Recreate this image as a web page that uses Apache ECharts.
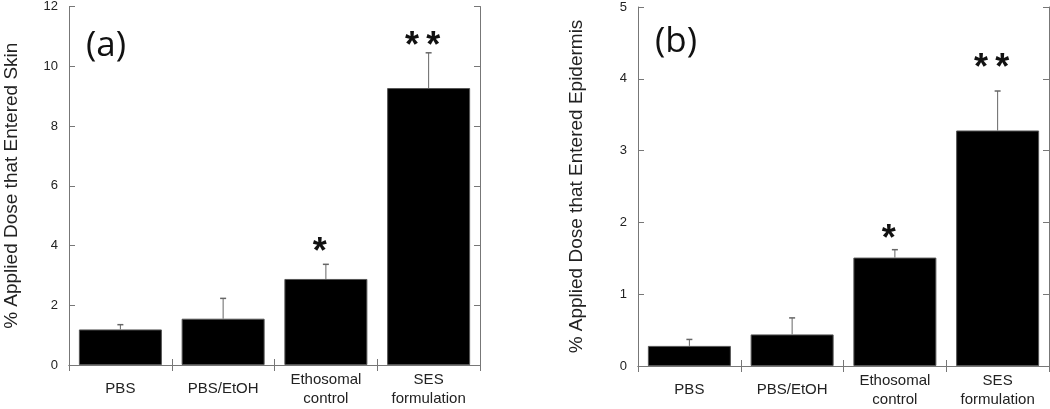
<!DOCTYPE html>
<html>
<head>
<meta charset="utf-8">
<script src="https://cdn.jsdelivr.net/npm/echarts@6/dist/echarts.min.js"></script>
<style>
  html, body { margin: 0; padding: 0; background: #fff; }
  #chart { width: 1050px; height: 409px; }
</style>
</head>
<body>
<div id="chart"></div>
<script>
const categories = ['PBS', 'PBS/EtOH', 'Ethosomal\ncontrol', 'SES\nformulation']

// (a) skin
const skinMean = [1.19, 1.55, 2.88, 9.27]
const skinErr = [0.16, 0.68, 0.49, 1.18]
const skinMarks = ['', '', '*', '*\u2009*']
const skinMarkAt = [0, 0, 4.0, 10.9]
const skinMax = 12
const skinStep = 2

// (b) epidermis
const epiMean = [0.28, 0.44, 1.51, 3.28]
const epiErr = [0.09, 0.23, 0.11, 0.55]
const epiMarks = ['', '', '*', '*\u2009*']
const epiMarkAt = [0, 0, 1.87, 4.24]
const epiMax = 5
const epiStep = 1

const font = '"Liberation Sans", Arial, sans-serif'
const axisGray = '#777'

function errItem(marks) {
  return function (params, api) {
    const i = api.value(0)
    const top = api.coord([i, api.value(1) + api.value(2)])
    const base = api.coord([i, api.value(1)])
    const mk = api.coord([i, api.value(3)])
    const children = [
      { type: 'line', shape: { x1: top[0], y1: base[1], x2: top[0], y2: top[1] }, style: { stroke: '#666', lineWidth: 1 } },
      { type: 'line', shape: { x1: top[0] - 3, y1: top[1], x2: top[0] + 3, y2: top[1] }, style: { stroke: '#666', lineWidth: 1.5 } }
    ]
    const m = marks[params.dataIndex]
    if (m) {
      children.push({
        type: 'text',
        style: { text: m, x: mk[0] - 6, y: mk[1] + 8, fill: '#111', font: 'bold 36px ' + font, align: 'center', verticalAlign: 'middle' }
      })
    }
    return { type: 'group', children: children }
  }
}

function xAxes(grid) {
  const tick = { show: true, inside: true, length: 6, lineStyle: { color: axisGray } }
  return [
    {
      type: 'category', gridIndex: grid, data: categories,
      axisLine: { lineStyle: { color: axisGray } },
      axisTick: tick,
      axisLabel: { interval: 0, color: '#222', fontSize: 15, fontFamily: font, lineHeight: 19, verticalAlign: 'middle', margin: 24 }
    },
    {
      type: 'category', gridIndex: grid, data: categories, position: 'top',
      axisLine: { lineStyle: { color: axisGray } },
      axisTick: tick,
      axisLabel: { show: false }
    }
  ]
}

function yAxes(grid, max, step, name, gap) {
  const tick = { show: true, inside: true, length: 6, lineStyle: { color: axisGray } }
  return [
    {
      type: 'value', gridIndex: grid, min: 0, max: max, interval: step,
      splitLine: { show: false },
      axisLine: { show: true, lineStyle: { color: axisGray } },
      axisTick: tick,
      axisLabel: { color: '#222', fontSize: 13, fontFamily: font, margin: 11 },
      name: name, nameLocation: 'middle', nameRotate: 90, nameGap: gap,
      nameTextStyle: { color: '#222', fontSize: 19, fontFamily: font }
    },
    {
      type: 'value', gridIndex: grid, min: 0, max: max, interval: step, position: 'right',
      splitLine: { show: false },
      axisLine: { show: true, lineStyle: { color: axisGray } },
      axisTick: tick,
      axisLabel: { show: false }
    }
  ]
}

const chart = echarts.init(document.getElementById('chart'))
chart.setOption({
  animation: false,
  title: [
    { text: '(a)', left: 81, top: 24, textStyle: { fontSize: 35, fontWeight: 'normal', color: '#111', fontFamily: '"Open Sans", sans-serif' } },
    { text: '(b)', left: 650, top: 20, textStyle: { fontSize: 35, fontWeight: 'normal', color: '#111', fontFamily: '"Open Sans", sans-serif' } }
  ],
  grid: [
    { left: 69, top: 6, width: 411, height: 359 },
    { left: 638, top: 7, width: 411, height: 359 }
  ],
  xAxis: [...xAxes(0), ...xAxes(1)],
  yAxis: [
    ...yAxes(0, skinMax, skinStep, '% Applied Dose that Entered Skin', 48),
    ...yAxes(1, epiMax, epiStep, '% Applied Dose that Entered Epidermis', 52)
  ],
  series: [
    {
      type: 'bar', xAxisIndex: 0, yAxisIndex: 0, data: skinMean, barWidth: 83,
      itemStyle: { color: '#000', borderColor: '#555', borderWidth: 1 }
    },
    {
      type: 'custom', xAxisIndex: 0, yAxisIndex: 0, z: 5,
      renderItem: errItem(skinMarks),
      data: skinMean.map((v, i) => [i, v, skinErr[i], skinMarkAt[i]])
    },
    {
      type: 'bar', xAxisIndex: 2, yAxisIndex: 2, data: epiMean, barWidth: 83,
      itemStyle: { color: '#000', borderColor: '#555', borderWidth: 1 }
    },
    {
      type: 'custom', xAxisIndex: 2, yAxisIndex: 2, z: 5,
      renderItem: errItem(epiMarks),
      data: epiMean.map((v, i) => [i, v, epiErr[i], epiMarkAt[i]])
    }
  ]
})
</script>
</body>
</html>
